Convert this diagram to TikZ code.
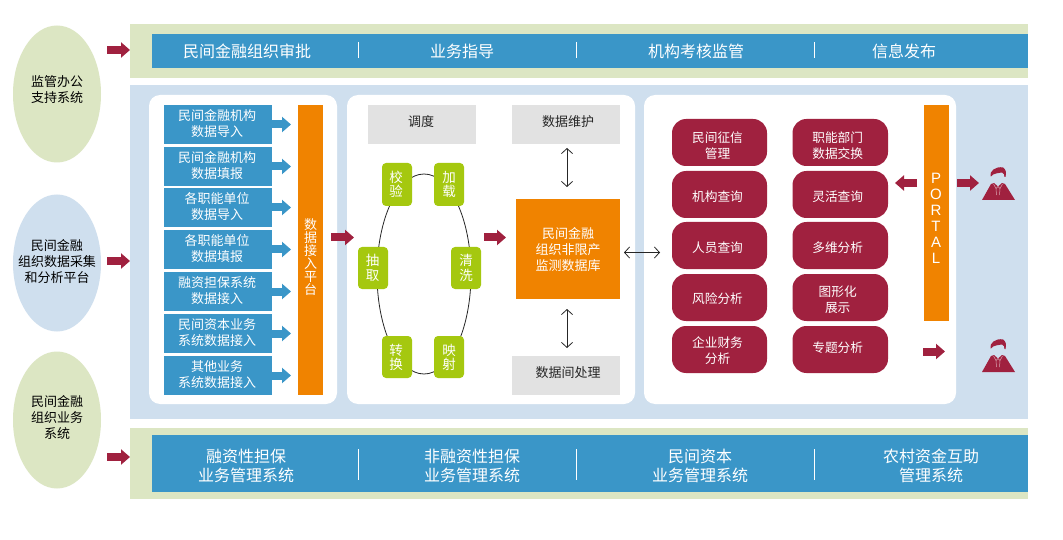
\documentclass[tikz,border=0pt]{standalone}
\usepackage{fontspec}
\setmainfont{Noto Sans CJK SC}
\newfontfamily\latinf{Liberation Sans}
\usetikzlibrary{arrows.meta,shapes.geometric}
\definecolor{barblue}{HTML}{3A96C8}
\definecolor{palegreen}{HTML}{DCE6C3}
\definecolor{paleblue}{HTML}{CFDFEE}
\definecolor{orangeb}{HTML}{F08300}
\definecolor{wine}{HTML}{A0213F}
\definecolor{leaf}{HTML}{A5C80F}
\definecolor{greyb}{HTML}{E2E2E2}
\tikzset{
  x=1pt,y=-1pt,
  box/.style={inner sep=0pt,outer sep=0pt,align=center,text=white,font=\fontsize{13}{16}\selectfont},
  band/.style={box,fill=palegreen},
  bar/.style={box,fill=barblue},
  panel/.style={box,fill=white,rounded corners=11pt},
  src/.style={box,fill=barblue},
  orangebox/.style={box,fill=orangeb},
  grey/.style={box,fill=greyb},
  stepbox/.style={box,fill=leaf,rounded corners=4pt},
  func/.style={box,fill=wine,rounded corners=14pt},
  side/.style={box,ellipse,minimum width=88pt,minimum height=137pt},
  lab/.style={inner sep=0pt,outer sep=0pt,align=center,text=white,font=\fontsize{13}{16}\selectfont},
  sidelab/.style={lab,text=black},
  greylab/.style={lab,text=black!85},
  funclab/.style={lab,font=\fontsize{12.7}{15.5}\selectfont},
  steplab/.style={lab,font=\fontsize{13.5}{14.5}\selectfont},
  bigtext/.style={text=white,align=center,font=\fontsize{16}{19}\selectfont,inner sep=0pt},
  winearrow/.style={draw=wine,line width=8pt,-{Triangle[length=9pt,width=15pt]}},
  bluearrow/.style={draw=barblue,line width=8pt,-{Triangle[length=9pt,width=15pt]}},
  thinarrow/.style={draw=black!85,line width=0.8pt,{Straight Barb[length=5pt,width=11pt]}-{Straight Barb[length=5pt,width=11pt]}},
  sep/.style={draw=white,line width=1pt},
}
\newcommand{\bx}[7]{\node[#2,minimum width={(#5-#3)*1pt},minimum height={(#6-#4)*1pt}] (#1) at ({(#3+#5)/2},{(#4+#6)/2}) {#7};}
\newcommand{\person}[3]{%
  \begin{scope}[shift={(#2,#3)}]
    \coordinate (#1) at (-16,8);
    \fill[wine] (-7.5,-6.5) .. controls (-9,-12) and (-2,-17) .. (5,-15.5) .. controls (8,-14) and (8.5,-10) .. (7.5,-6) -- (6.5,-6) .. controls (6.5,-8) and (6,-10) .. (4,-10.5) .. controls (0,-10) and (-3,-9.5) .. (-5,-8.5) .. controls (-6,-7.5) and (-6.5,-6.5) .. (-7.5,-6.5) -- cycle;
    \fill[wine] (-16,17) -- (-7,1) -- (-4,0) -- (0,3.5) -- (4,0) -- (7,1) -- (17,17) -- cycle;
    \draw[white!60!wine,line width=0.5pt] (-4.5,1) -- (-2,5.5) -- (-1.5,12);
    \draw[white!60!wine,line width=0.5pt] (4.5,1) -- (2,5.5) -- (1.5,12);
    \draw[white!60!wine,line width=0.4pt] (-2,5.5) -- (0,3.5) -- (2,5.5);
  \end{scope}}
\begin{document}
\begin{tikzpicture}
\useasboundingbox[fill=white] (0,0) rectangle (1063,540);
% side ellipses
\node[side,fill=palegreen] (s1) at (57,94) {};
\node[side,fill=paleblue] (s2) at (57,263) {};
\node[side,fill=palegreen] (s3) at (57,420) {};
\node[sidelab] (s1t) at (57,90) {监管办公\\支持系统};
\node[sidelab] (s2t) at (57,262) {民间金融\\组织数据采集\\和分析平台};
\node[sidelab] (s3t) at (57,417) {民间金融\\组织业务\\系统};
% bands
\bx{topband}{band}{130}{24}{1028}{78}{}
\bx{topbar}{bar}{152}{34}{1028}{68}{}
\bx{main}{box,fill=paleblue}{130}{85}{1028}{419}{}
\bx{botband}{band}{130}{428}{1028}{499}{}
\bx{botbar}{bar}{152}{435}{1028}{492}{}
\node[bigtext] (t1) at (247,51) {民间金融组织审批};
\node[bigtext] (t2) at (462,51) {业务指导};
\node[bigtext] (t3) at (696,51) {机构考核监管};
\node[bigtext] (t4) at (904,51) {信息发布};
\node[bigtext] (b1) at (246,465.5) {融资性担保\\业务管理系统};
\node[bigtext] (b2) at (472,465.5) {非融资性担保\\业务管理系统};
\node[bigtext] (b3) at (700,465.5) {民间资本\\业务管理系统};
\node[bigtext] (b4) at (931,465.5) {农村资金互助\\管理系统};
\foreach \x in {358,576,814}{
  \draw[sep] (\x,42) -- (\x,58);
  \draw[sep] (\x,449) -- (\x,480);
}
% panels
\bx{p1}{panel}{149}{95}{337}{404}{}
\bx{p2}{panel}{347}{95}{635}{404}{}
\bx{p3}{panel}{644}{95}{956}{404}{}
% sources
\bx{a1}{src}{164}{105}{272}{144}{}
\bx{a2}{src}{164}{147}{272}{186}{}
\bx{a3}{src}{164}{188}{272}{227}{}
\bx{a4}{src}{164}{230}{272}{269}{}
\bx{a5}{src}{164}{272}{272}{311}{}
\bx{a6}{src}{164}{314}{272}{353}{}
\bx{a7}{src}{164}{356}{272}{395}{}
\node[lab] (a1t) at (217,124) {民间金融机构\\数据导入};
\node[lab] (a2t) at (217,166) {民间金融机构\\数据填报};
\node[lab] (a3t) at (217,207) {各职能单位\\数据导入};
\node[lab] (a4t) at (217,249) {各职能单位\\数据填报};
\node[lab] (a5t) at (217,291) {融资担保系统\\数据接入};
\node[lab] (a6t) at (217,333) {民间资本业务\\系统数据接入};
\node[lab] (a7t) at (217,375) {其他业务\\系统数据接入};
\bx{ingest}{orangebox}{298}{105}{323}{395}{}
\node[lab,font=\fontsize{13}{13}\selectfont] (ingestt) at (310.5,257.5) {数\\据\\接\\入\\平\\台};
\foreach \i in {1,...,7}{
  \draw[bluearrow,shorten >=7pt] (a\i.east) -- (a\i.east -| ingest.west);
}
% ETL ring
\node[box,draw=black!85,line width=0.8pt,ellipse,minimum width=94pt,minimum height=200pt] (ring) at (424,274) {};
\bx{g1}{stepbox}{382}{163}{412}{206}{}
\bx{g2}{stepbox}{434}{163}{464}{206}{}
\bx{g3}{stepbox}{358}{247}{388}{289}{}
\bx{g4}{stepbox}{451}{247}{481}{289}{}
\bx{g5}{stepbox}{382}{336}{412}{378}{}
\bx{g6}{stepbox}{434}{336}{464}{378}{}
\node[steplab] (g1t) at (396,184.5) {校\\验};
\node[steplab] (g2t) at (449,184.5) {加\\载};
\node[steplab] (g3t) at (372.5,268) {抽\\取};
\node[steplab] (g4t) at (466,268) {清\\洗};
\node[steplab] (g5t) at (396,357.5) {转\\换};
\node[steplab] (g6t) at (449,357.5) {映\\射};
\bx{sched}{grey}{368}{105}{476}{144}{}
\bx{maint}{grey}{512}{105}{620}{144}{}
\bx{proc}{grey}{512}{356}{620}{395}{}
\node[greylab] (schedt) at (421,122) {调度};
\node[greylab] (maintt) at (568,122) {数据维护};
\node[greylab] (proct) at (568,373) {数据间处理};
\bx{db}{orangebox}{516}{199}{620}{299}{}
\node[lab] (dbt) at (568,250) {民间金融\\组织非限产\\监测数据库};
\coordinate (m1) at (567,148);
\coordinate (m2) at (567,187);
\coordinate (m3) at (567,309);
\coordinate (m4) at (567,348);
\draw[thinarrow] (m1) -- (m2);
\draw[thinarrow] (m3) -- (m4);
% functions
\bx{f1}{func}{672}{119}{767}{166}{}
\bx{f2}{func}{672}{171}{767}{218}{}
\bx{f3}{func}{672}{222}{767}{269}{}
\bx{f4}{func}{672}{274}{767}{321}{}
\bx{f5}{func}{672}{326}{767}{373}{}
\bx{h1}{func}{792.5}{119}{888}{166}{}
\bx{h2}{func}{792.5}{171}{888}{218}{}
\bx{h3}{func}{792.5}{222}{888}{269}{}
\bx{h4}{func}{792.5}{274}{888}{321}{}
\bx{h5}{func}{792.5}{326}{888}{373}{}
\node[funclab] (f1t) at (717.5,145.5) {民间征信\\管理};
\node[funclab] (f2t) at (717.5,197) {机构查询};
\node[funclab] (f3t) at (717.5,247.5) {人员查询};
\node[funclab] (f4t) at (717.5,299) {风险分析};
\node[funclab] (f5t) at (717.5,350.5) {企业财务\\分析};
\node[funclab] (h1t) at (837.7,145.5) {职能部门\\数据交换};
\node[funclab] (h2t) at (837.7,197) {灵活查询};
\node[funclab] (h3t) at (837.7,247.5) {多维分析};
\node[funclab] (h4t) at (837.7,299.5) {图形化\\展示};
\node[funclab] (h5t) at (837.7,347.5) {专题分析};
\bx{portal}{orangebox}{924}{105}{949}{321}{}
\node[lab,font=\fontsize{15}{16}\latinf] (portalt) at (936,218) {P\\O\\R\\T\\A\\L};
\coordinate (dbr) at (624,252.5);
\coordinate (pl) at (660,252.5);
\draw[thinarrow] (dbr) -- (pl);
% people
\person{u1}{998}{183}
\person{u2}{998}{355}
% wine arrows
\coordinate (w1) at (107,50);   \coordinate (w1e) at (130,50);
\coordinate (w2) at (107,261);  \coordinate (w2e) at (130,261);
\coordinate (w3) at (107,457);  \coordinate (w3e) at (130,457);
\coordinate (w4) at (331,237.5);  \coordinate (w4e) at (354,237.5);
\coordinate (w5) at (484,237.5);  \coordinate (w5e) at (506,237.5);
\coordinate (w6) at (917,183);  \coordinate (w6e) at (895,183);
\coordinate (w7) at (957,183);  \coordinate (w7e) at (979,183);
\coordinate (w8) at (923,351.5);  \coordinate (w8e) at (945,351.5);
\foreach \i in {1,...,8}{ \draw[winearrow] (w\i) -- (w\i e); }
\end{tikzpicture}
\end{document}
